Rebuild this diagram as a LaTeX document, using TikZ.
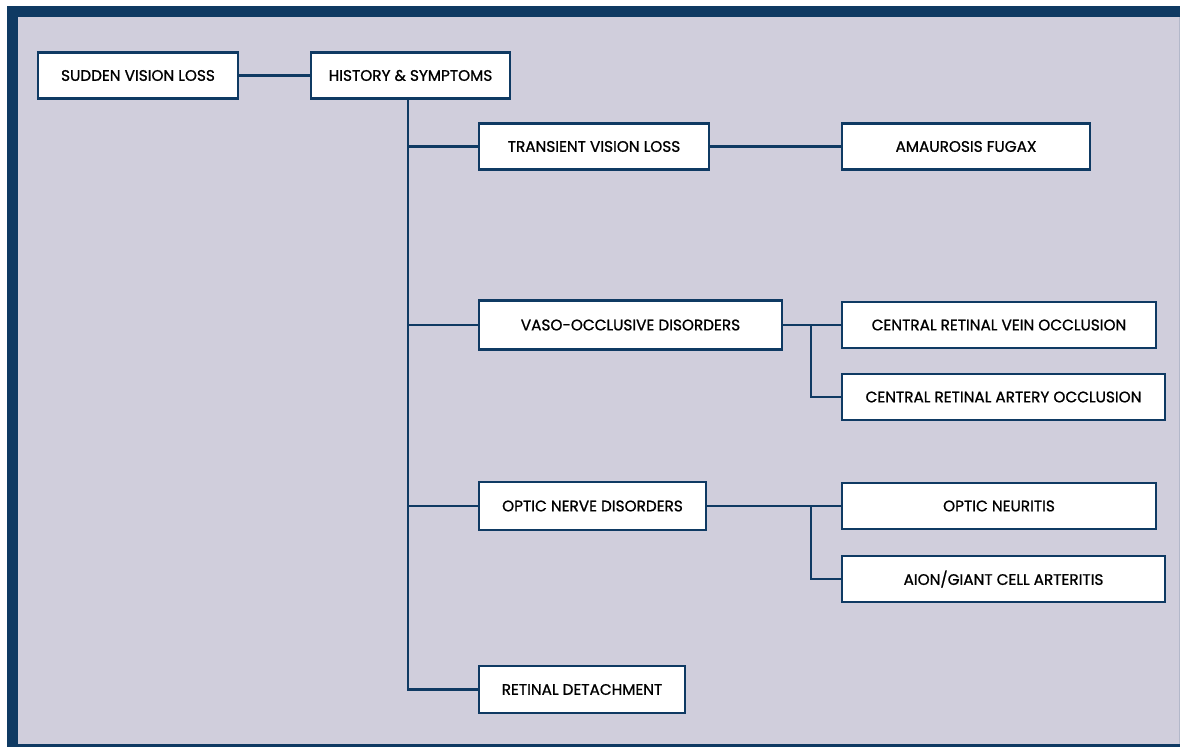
\documentclass[tikz,border=0pt]{standalone}
\usepackage{fontspec}
\setmainfont{Poppins}[FakeBold=1]
\definecolor{navy}{HTML}{0F3A63}
\definecolor{lilac}{HTML}{D0CEDC}
\begin{document}
\begin{tikzpicture}[x=0.02cm, y=-0.02cm,
  box/.style={draw=navy, line width=1.2pt, fill=white, align=center, inner sep=0pt,
    minimum height=46*0.02cm, font=\fontsize{8.7}{10}\selectfont},
  link/.style={draw=navy, line width=1.2pt}]
\useasboundingbox (0,0) rectangle (1180,747);
\fill[lilac] (18,17) rectangle (1180,744);
\fill[navy] (7,6) rectangle (1180,17);
\fill[navy] (7,6) rectangle (18,747);
\fill[navy] (7,744) rectangle (1180,747);
\draw[color=lilac!85!navy, line width=0.5pt] (1179.5,17) -- (1179.5,744);

\node[box, minimum width=200*0.02cm] (svl) at (138,75.5) {SUDDEN VISION LOSS};
\node[box, minimum width=199*0.02cm] (hs) at (410.5,75.5) {HISTORY \& SYMPTOMS};
\draw[link] (svl) -- (hs);

\node[box, minimum width=230*0.02cm] (tvl) at (594,146.5) {TRANSIENT VISION LOSS};
\node[box, minimum width=248*0.02cm] (af) at (966,146.5) {AMAUROSIS FUGAX};
\node[box, minimum width=303*0.02cm, minimum height=49*0.02cm] (voc) at (630.5,325) {VASO-OCCLUSIVE DISORDERS};
\node[box, minimum width=314*0.02cm] (crvo) at (999,325) {CENTRAL RETINAL VEIN OCCLUSION};
\node[box, minimum width=323*0.02cm] (crao) at (1003.5,397) {CENTRAL RETINAL ARTERY OCCLUSION};
\node[box, minimum width=227*0.02cm, minimum height=48*0.02cm] (ond) at (592.5,506) {OPTIC NERVE DISORDERS};
\node[box, minimum width=314*0.02cm] (on) at (999,506) {OPTIC NEURITIS};
\node[box, minimum width=323*0.02cm] (aion) at (1003.5,579) {AION/GIANT CELL ARTERITIS};
\node[box, minimum width=206*0.02cm, minimum height=47*0.02cm] (rd) at (582,689.5) {RETINAL DETACHMENT};

\coordinate (trunk) at (408,98);
\draw[link] (trunk) |- (tvl.west);
\draw[link] (trunk) |- (voc.west);
\draw[link] (trunk) |- (ond.west);
\draw[link] (trunk) |- (rd.west);
\draw[link] (tvl) -- (af);

\coordinate (vb) at (811,325);
\draw[link] (voc) -- (crvo);
\draw[link] (vb) |- (crao.west);
\coordinate (ob) at (811,506);
\draw[link] (ond) -- (on);
\draw[link] (ob) |- (aion.west);
\end{tikzpicture}
\end{document}
